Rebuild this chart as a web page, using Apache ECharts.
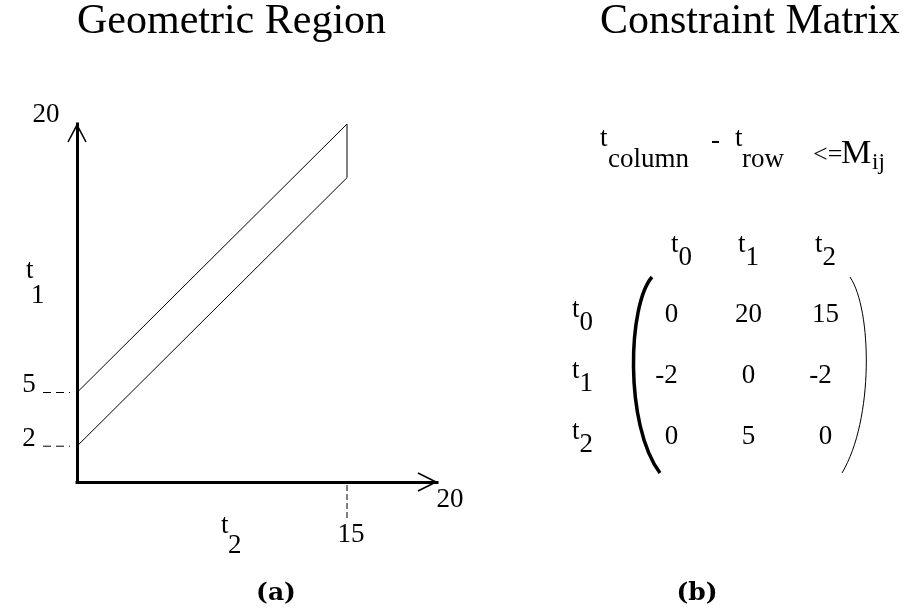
<!DOCTYPE html>
<html>
<head>
<meta charset="utf-8">
<script src="https://cdn.jsdelivr.net/npm/echarts/dist/echarts.min.js"></script>
<style>
html,body{margin:0;padding:0;background:#fff;}
#chart{width:910px;height:611px;}
</style>
</head>
<body>
<div id="chart"></div>
<script>
// ---- data ----
const axisMaxT2 = 20;
const axisMaxT1 = 20;
const regionT2 = [0, 15, 15, 0];      // polygon corners (t2)
const regionT1 = [5, 20, 17, 2];      // polygon corners (t1)
const yTickLabels = [2, 5, 20];
const xTickLabels = [15, 20];
const yGuideValues = [2, 5];
const xGuideValues = [15];
const matrixCols = ['0', '1', '2'];
const matrixRows = ['0', '1', '2'];
const matrixValues = [
  [0, 20, 15],
  [-2, 0, -2],
  [0, 5, 0]
];

const SERIF = '"Liberation Serif", "Times New Roman", serif';
const chart = echarts.init(document.getElementById('chart'), null, {renderer: 'canvas'});

const regionData = regionT2.map((x, i) => [x, regionT1[i]]);
const tickItems = yTickLabels.map(v => ({pt: [0, v], text: String(v), axis: 'y', isMax: v === axisMaxT1}))
  .concat(xTickLabels.map(v => ({pt: [v, 0], text: String(v), axis: 'x', isMax: v === axisMaxT2})));
const guideItems = yGuideValues.map(v => ({pt: [0, v], axis: 'y'}))
  .concat(xGuideValues.map(v => ({pt: [v, 0], axis: 'x'})));
const cellData = [];
matrixValues.forEach((row, r) => row.forEach((val, c) => cellData.push([c, r, val])));

const colRich = {
  gap: {width: 20},
  t: {fontFamily: SERIF, fontSize: 27, lineHeight: 27, color: '#000', padding: [0, 0, 13, 0]},
  s: {fontFamily: SERIF, fontSize: 27, lineHeight: 27, color: '#000', padding: [13, 0, 0, 0]}
};
const rowRich = {
  t: {fontFamily: SERIF, fontSize: 27, lineHeight: 27, color: '#000', padding: [3, 0, 13, 0]},
  s: {fontFamily: SERIF, fontSize: 27, lineHeight: 27, color: '#000', padding: [16, 0, 0, 0]}
};

const option = {
  backgroundColor: '#fff',
  animation: false,
  grid: [
    {left: 77, top: 124, width: 360, height: 358},
    {left: 633, top: 284.5, width: 231, height: 183}
  ],
  xAxis: [
    {gridIndex: 0, type: 'value', min: 0, max: axisMaxT2,
     axisLine: {show: true, onZero: false, lineStyle: {color: '#000', width: 3, cap: 'square'}},
     axisTick: {show: false}, axisLabel: {show: false}, splitLine: {show: false}},
    {gridIndex: 1, type: 'category', data: matrixCols, position: 'top',
     axisLine: {show: false}, axisTick: {show: false}, splitLine: {show: false},
     axisLabel: {margin: 20, interval: 0, hideOverlap: false, rich: colRich,
       formatter: (v, i) => (i === 0 ? '{gap|}' : '') + '{t|t}{s|' + v + '}'}}
  ],
  yAxis: [
    {gridIndex: 0, type: 'value', min: 0, max: axisMaxT1,
     axisLine: {show: true, onZero: false, lineStyle: {color: '#000', width: 3, cap: 'square'}},
     axisTick: {show: false}, axisLabel: {show: false}, splitLine: {show: false}},
    {gridIndex: 1, type: 'category', data: matrixRows, inverse: true,
     axisLine: {show: false}, axisTick: {show: false}, splitLine: {show: false},
     axisLabel: {margin: 40, interval: 0, hideOverlap: false,
       formatter: v => '{t|t}{s|' + v + '}', rich: rowRich}}
  ],
  series: [
    {
      name: 'region', type: 'line', xAxisIndex: 0, yAxisIndex: 0,
      data: regionData, symbol: 'none', silent: true,
      lineStyle: {color: '#000', width: 1}
    },
    {
      name: 'arrows', type: 'custom', xAxisIndex: 0, yAxisIndex: 0, silent: true,
      data: [[0, axisMaxT1], [axisMaxT2, 0]],
      renderItem: function (params, api) {
        const p = api.coord([api.value(0), api.value(1)]);
        const pts = params.dataIndex === 0
          ? [[p[0] - 9, p[1] + 18], [p[0], p[1] + 1], [p[0] + 9, p[1] + 18]]
          : [[p[0] - 19, p[1] - 9], [p[0] - 1, p[1]], [p[0] - 19, p[1] + 9]];
        return {type: 'polyline', shape: {points: pts},
                style: {stroke: '#000', lineWidth: 1.6, fill: null}};
      }
    },
    {
      name: 'guides', type: 'custom', xAxisIndex: 0, yAxisIndex: 0, silent: true,
      data: guideItems.map(g => g.pt),
      renderItem: function (params, api) {
        const g = guideItems[params.dataIndex];
        const p = api.coord(g.pt);
        const shape = g.axis === 'y'
          ? {x1: p[0] - 34, y1: p[1], x2: p[0] - 7, y2: p[1]}
          : {x1: p[0], y1: p[1] + 3, x2: p[0], y2: p[1] + 36};
        return {type: 'line', shape: shape,
                style: {stroke: '#000', lineWidth: 1, lineDash: g.axis === 'y' ? [8, 5] : [6, 3]}};
      }
    },
    {
      name: 'tickLabels', type: 'custom', xAxisIndex: 0, yAxisIndex: 0, silent: true,
      data: tickItems.map(t => t.pt),
      renderItem: function (params, api) {
        const t = tickItems[params.dataIndex];
        const p = api.coord(t.pt);
        let off;
        if (t.axis === 'y') off = t.isMax ? [-31, -9] : [-48, -7.5];
        else off = t.isMax ? [13, 18] : [4, 53];
        return {type: 'text', x: p[0] + off[0], y: p[1] + off[1],
                style: {text: t.text, font: '27px ' + SERIF, fill: '#000',
                        align: 'center', verticalAlign: 'middle'}};
      }
    },
    {
      name: 'matrix', type: 'custom', xAxisIndex: 1, yAxisIndex: 1, silent: true,
      data: cellData,
      renderItem: function (params, api) {
        const p = api.coord([api.value(0), api.value(1)]);
        const val = cellData[params.dataIndex][2];
        return {type: 'text', x: p[0] - (val < 0 ? 5 : 0), y: p[1],
                style: {text: String(val), font: '27px ' + SERIF,
                        fill: '#000', align: 'center', verticalAlign: 'middle'}};
      }
    },
    {
      name: 'brackets', type: 'custom', xAxisIndex: 1, yAxisIndex: 1, silent: true,
      data: [[0, 0]],
      renderItem: function (params, api) {
        const cs = params.coordSys;
        const L = cs.x, T = cs.y, R = cs.x + cs.width, B = cs.y + cs.height;
        return {type: 'group', children: [
          {type: 'bezierCurve',
           shape: {x1: L + 19, y1: T - 7.5, cpx1: L - 5, cpy1: T + 20, cpx2: L - 9, cpy2: T + 140, x2: L + 27, y2: B + 5.5},
           style: {stroke: '#000', lineWidth: 3.5, fill: null}},
          {type: 'bezierCurve',
           shape: {x1: R - 14, y1: T - 7.5, cpx1: R + 8, cpy1: T + 25, cpx2: R + 10, cpy2: T + 135, x2: R - 22, y2: B + 5.5},
           style: {stroke: '#000', lineWidth: 1, fill: null}}
        ]};
      }
    }
  ],
  graphic: [
    {type: 'text', x: 77, y: 21.5, style: {text: 'Geometric Region', font: '42px ' + SERIF, fill: '#000', align: 'left', verticalAlign: 'middle'}},
    {type: 'text', x: 600, y: 21.5, style: {text: 'Constraint Matrix', font: '42px ' + SERIF, fill: '#000', align: 'left', verticalAlign: 'middle'}},
    // formula
    {type: 'text', x: 600, y: 139, style: {text: 't', font: '27px ' + SERIF, fill: '#000', align: 'left', verticalAlign: 'middle'}},
    {type: 'text', x: 608, y: 160, style: {text: 'column', font: '27px ' + SERIF, fill: '#000', align: 'left', verticalAlign: 'middle'}},
    {type: 'text', x: 711, y: 141, style: {text: '-', font: '27px ' + SERIF, fill: '#000', align: 'left', verticalAlign: 'middle'}},
    {type: 'text', x: 735, y: 139, style: {text: 't', font: '27px ' + SERIF, fill: '#000', align: 'left', verticalAlign: 'middle'}},
    {type: 'text', x: 742, y: 160, style: {text: 'row', font: '27px ' + SERIF, fill: '#000', align: 'left', verticalAlign: 'middle'}},
    {type: 'text', x: 813, y: 155, style: {text: '<=', font: '26px ' + SERIF, fill: '#000', align: 'left', verticalAlign: 'middle'}},
    {type: 'text', x: 841, y: 154, style: {text: 'M', font: '34px ' + SERIF, fill: '#000', align: 'left', verticalAlign: 'middle'}},
    {type: 'text', x: 872, y: 163, style: {text: 'ij', font: '23px ' + SERIF, fill: '#000', align: 'left', verticalAlign: 'middle'}},
    // axis titles
    {type: 'text', x: 26, y: 271, style: {text: 't', font: '27px ' + SERIF, fill: '#000', align: 'left', verticalAlign: 'middle'}},
    {type: 'text', x: 31, y: 296, style: {text: '1', font: '27px ' + SERIF, fill: '#000', align: 'left', verticalAlign: 'middle'}},
    {type: 'text', x: 221, y: 526, style: {text: 't', font: '27px ' + SERIF, fill: '#000', align: 'left', verticalAlign: 'middle'}},
    {type: 'text', x: 228, y: 546, style: {text: '2', font: '27px ' + SERIF, fill: '#000', align: 'left', verticalAlign: 'middle'}},
    // panel letters
    {type: 'text', x: 276, y: 593, style: {text: '(a)', font: 'bold 25px "DejaVu Serif", serif', fill: '#000', align: 'center', verticalAlign: 'middle'}},
    {type: 'text', x: 697, y: 593, style: {text: '(b)', font: 'bold 25px "DejaVu Serif", serif', fill: '#000', align: 'center', verticalAlign: 'middle'}}
  ]
};
chart.setOption(option);
</script>
</body>
</html>
